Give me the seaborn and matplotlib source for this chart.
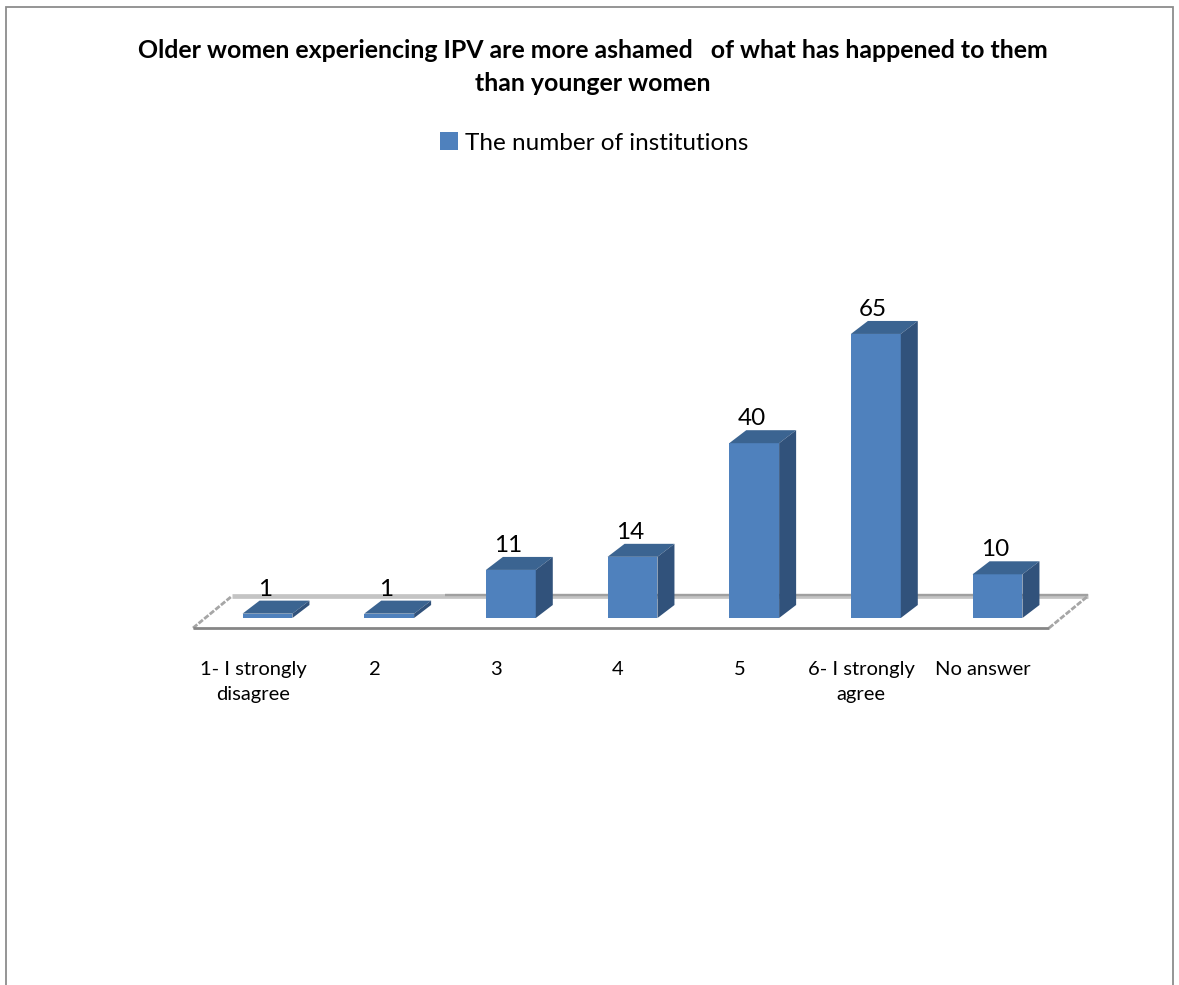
import matplotlib
matplotlib.use("Agg")
import matplotlib.pyplot as plt
from matplotlib.patches import Polygon, Rectangle
import pandas as pd
import seaborn as sns

categories = ["1- I strongly\ndisagree", "2", "3", "4", "5", "6- I strongly\nagree", "No answer"]
institutions = [1, 1, 11, 14, 40, 65, 10]
series_name = "The number of institutions"
title = ("Older women experiencing IPV are more ashamed   of what has happened to them\n"
         "than younger women")

FRONT, TOP, SIDE = "#4F81BD", "#3B6491", "#31527B"
W, H = 1179, 985

sns.set_theme(style="white")
plt.rcParams["font.family"] = ["Lato", "DejaVu Sans"]

fig = plt.figure(figsize=(W / 100, H / 100), dpi=100, facecolor="white")

# Plot area in pixels: floor front edge at y=628, category baseline at y=618
left, right, bottom_px, top_px = 193, 1049, 628, 200
ax = fig.add_axes([left / W, 1 - bottom_px / H, (right - left) / W, (bottom_px - top_px) / H])
ax.patch.set_alpha(0)

df = pd.DataFrame({"category": categories, "count": institutions})
bar_width = 0.41
sns.barplot(data=df, x="category", y="count", order=categories, color=FRONT,
            saturation=1, width=bar_width, ax=ax, zorder=3, errorbar=None, linewidth=0)

px_x, px_y = 121.67, 4.37
ax.set_xlim((left - 267.5) / px_x, (right - 267.5) / px_x)
ax.set_ylim(-(bottom_px - 618) / px_y, (618 - top_px) / px_y)

# Oblique depth of the bars and the floor
dx, dy = 17 / px_x, 13 / px_y
for i, v in enumerate(institutions):
    l, r = i - bar_width / 2, i + bar_width / 2
    ax.add_patch(Polygon([(l, v), (r, v), (r + dx, v + dy), (l + dx, v + dy)],
                         closed=True, fc=TOP, ec="none", zorder=4))
    ax.add_patch(Polygon([(r, 0), (r, v), (r + dx, v + dy), (r + dx, dy)],
                         closed=True, fc=SIDE, ec="none", zorder=4))
    ax.annotate(str(v), (i, v), xytext=(-2, 10), textcoords="offset points",
                ha="center", va="bottom", fontsize=17.5, color="black", zorder=5)

y0 = ax.get_ylim()[0]
x0, x1 = ax.get_xlim()
floor_dx, floor_dy = 39 / px_x, 32 / px_y
back = y0 + floor_dy
split = (445 - 267.5) / px_x
ax.plot([x0 + floor_dx, x1 + floor_dx], [back, back], color="#C4C4C4", lw=3.4, zorder=1,
        solid_capstyle="butt", clip_on=False)
ax.plot([split, x1 + floor_dx], [back + 0.3, back + 0.3], color="#A0A0A0", lw=1.7, zorder=1,
        solid_capstyle="butt", clip_on=False)
ax.plot([x0, x1], [y0, y0], color="#868686", lw=2, zorder=2, clip_on=False,
        solid_capstyle="butt")
for x in (x0, x1):
    ax.plot([x, x + floor_dx], [y0, back], color="#A6A6A6", lw=2, ls=(0, (2, 0.6)),
            zorder=1, clip_on=False)

# Category labels sit a little to the left of the bars
ax.set_xticks([i - 0.12 for i in range(len(categories))], categories)
ax.tick_params(axis="x", length=0, pad=23.5, labelsize=14.5, labelcolor="black")
ax.set_yticks([])
ax.set_xlabel("")
ax.set_ylabel("")
for lbl in ax.get_xticklabels():
    lbl.set_linespacing(1.6)
sns.despine(ax=ax, left=True, bottom=True, top=True, right=True)

fig.text(593 / W, 1 - 67 / H, title, ha="center", va="center", fontsize=17.9, fontweight="bold",
         color="black", linespacing=1.55)

handle = Rectangle((0, 0), 1, 1, fc=FRONT, ec="none")
leg = fig.legend([handle], [series_name], loc="center", bbox_to_anchor=(594 / W, 1 - 143 / H),
                 frameon=False, fontsize=17.5, handlelength=0.75, handleheight=0.75,
                 handletextpad=0.3, borderpad=0)
for t in leg.get_texts():
    t.set_color("black")

# Chart frame runs past the lower edge of the canvas
fig.add_artist(Rectangle((6 / W, -0.05), (1173 - 6) / W, 1.05 - 7 / H,
                         transform=fig.transFigure, fc="none", ec="#8C8C8C", lw=1.3))

fig.savefig("out.png", dpi=100, facecolor="white")
